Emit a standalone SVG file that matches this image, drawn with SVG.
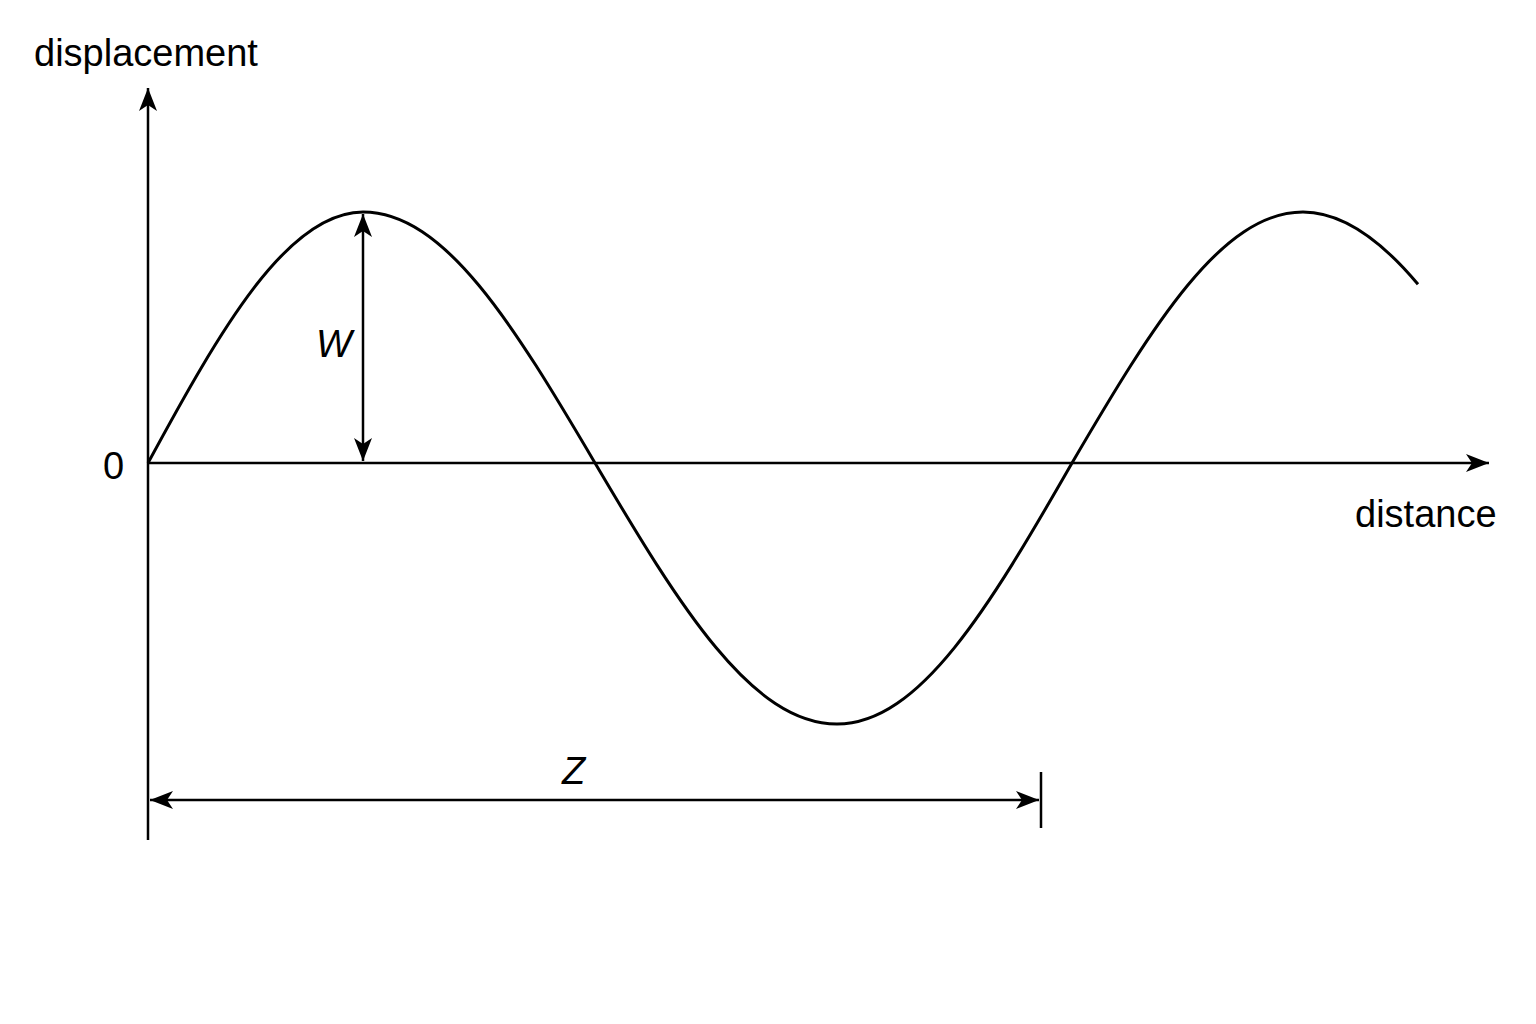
<svg xmlns="http://www.w3.org/2000/svg" width="1536" height="1024" viewBox="0 0 1536 1024">
<style>
.ax{stroke:#000;stroke-width:2.5;fill:none}
.wave{stroke:#000;stroke-width:3;fill:none}
.lbl{font-family:"Liberation Sans",Arial,sans-serif;font-size:38px;fill:#000}
.it{font-style:italic}
</style>
<defs>
<marker id="ah" markerUnits="userSpaceOnUse" viewBox="-24 -10 26 20" refX="0" refY="0" markerWidth="26" markerHeight="20" orient="auto-start-reverse">
<path d="M0,0 L-23,-9 L-17,0 L-23,9 Z" fill="#000"/>
</marker>
</defs>
<rect width="1536" height="1024" fill="#fff"/>
<g id="axes">
<line class="ax" x1="148" y1="840" x2="148" y2="88" marker-end="url(#ah)"/>
<line class="ax" x1="148" y1="463" x2="1489" y2="463" marker-end="url(#ah)"/>
</g>
<g id="wave">
<path class="wave" d="M148,463 C220,330 287.4,212 363,212 C444.6,212 513.4,324.4 595,463 C680.1,607.2 751.9,724 837,724 C919.6,724 989.4,607.2 1072,463 C1153.2,324.4 1221.8,212 1303,212 C1341.3,212 1379.7,238.6 1418,284.3"/>
</g>
<g id="connectors">
<line class="ax" x1="363" y1="214" x2="363" y2="461" marker-start="url(#ah)" marker-end="url(#ah)"/>
<line class="ax" x1="150" y1="800" x2="1039" y2="800" marker-start="url(#ah)" marker-end="url(#ah)"/>
<line class="ax" x1="1041" y1="772" x2="1041" y2="828"/>
</g>
<g id="labels">
<text class="lbl" x="34" y="66">displacement</text>
<text class="lbl" x="1355" y="527">distance</text>
<text class="lbl" x="103" y="479">0</text>
<text class="lbl it" x="316" y="357">W</text>
<text class="lbl it" x="562" y="784">Z</text>
</g>
</svg>
